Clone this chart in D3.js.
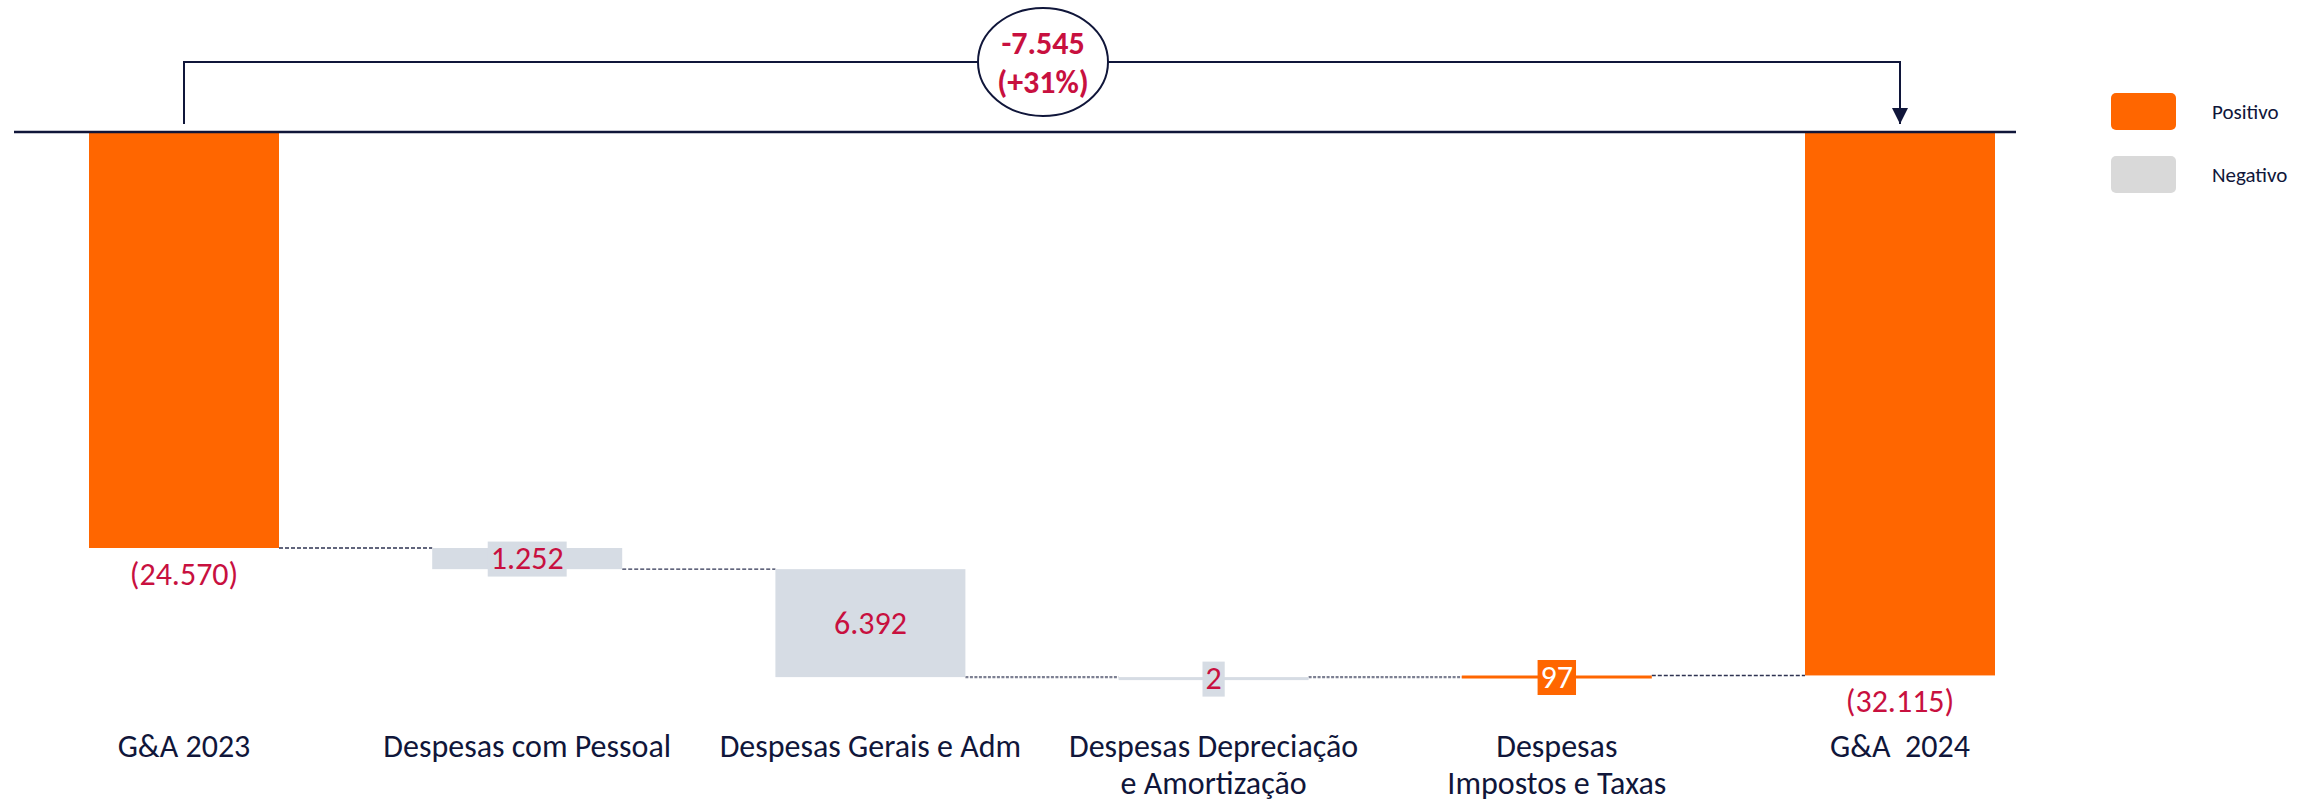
<!DOCTYPE html>
<html lang="pt">
<head>
    <meta charset="UTF-8">
    <title>G&A 2023 x 2024</title>
    <script src="https://cdn.jsdelivr.net/npm/d3@7"></script>
    <style>
        body { margin: 0; background: #fff; }
        text { font-family: Calibri, Carlito, "Noto Sans", sans-serif; }
    </style>
</head>
<body>
<script>
    // dados
    const categories = ['G&A 2023', 'Despesas com Pessoal', 'Despesas Gerais e Adm',
        'Despesas Depreciação\ne Amortização', 'Despesas\nImpostos e Taxas', 'G&A  2024'];
    const values = [24570, 1252, 6392, 2, -97, 32115];
    const kinds = ['total', 'neg', 'neg', 'neg', 'pos', 'total'];
    const labels = ['(24.570)', '1.252', '6.392', '2', '97', '(32.115)'];
    const deltaLabel = ['-7.545', '(+31%)'];
    const legendItems = ['Positivo', 'Negativo'];

    const width = 2316, height = 803;
    const navy = '#10163a', orange = '#ff6600', grey = '#d6dce4', red = '#c8103f';

    const x = d3.scalePoint().domain(d3.range(categories.length)).range([184, 1900]);
    const y = d3.scaleLinear().domain([0, 24570]).range([133, 548]);
    const barW = 190;

    // running totals for the waterfall
    let run = 0;
    const bars = values.map((v, i) => {
        let y0, y1;
        if (kinds[i] === 'total') { y0 = 0; y1 = v; run = v; }
        else { y0 = run; run = run + v; y1 = run; }
        return {i, v, kind: kinds[i], lo: Math.min(y0, y1), hi: Math.max(y0, y1), end: run};
    });

    const svg = d3.select('body').append('svg').attr('width', width).attr('height', height);

    // connectors
    bars.slice(0, -1).forEach((b, i) => {
        const thick = i === 2 || i === 3;
        svg.append('line')
            .attr('x1', x(i) + barW / 2).attr('x2', x(i + 1) - barW / 2)
            .attr('y1', y(b.end)).attr('y2', y(b.end))
            .attr('stroke', thick ? '#7d8092' : '#2e3352')
            .attr('stroke-width', thick ? 2.2 : 1.3)
            .attr('stroke-dasharray', thick ? '3,1.5' : '4,2');
    });

    // bars
    svg.selectAll('rect.bar').data(bars).enter().append('rect')
        .attr('class', 'bar')
        .attr('x', d => x(d.i) - barW / 2)
        .attr('width', barW)
        .attr('y', d => y(d.lo))
        .attr('height', d => Math.max(3, y(d.hi) - y(d.lo)))
        .attr('fill', d => d.kind === 'neg' ? grey : orange);

    // value labels
    bars.forEach((d, i) => {
        if (d.kind === 'total') {
            svg.append('text').attr('x', x(i)).attr('y', y(d.hi) + 26)
                .attr('text-anchor', 'middle').attr('dominant-baseline', 'central')
                .attr('font-size', 32).attr('fill', red).text(labels[i]);
            return;
        }
        const cy = (y(d.lo) + Math.max(y(d.hi), y(d.lo) + 3)) / 2;
        const g = svg.append('g');
        const t = g.append('text').attr('x', x(i)).attr('y', cy)
            .attr('text-anchor', 'middle').attr('dominant-baseline', 'central')
            .attr('font-size', 32)
            .attr('fill', d.kind === 'pos' ? '#fff' : red)
            .text(labels[i]);
        if (i !== 2) {
            const bb = t.node().getBBox();
            g.insert('rect', 'text')
                .attr('x', bb.x - 3).attr('width', bb.width + 6)
                .attr('y', cy - 17).attr('height', 35)
                .attr('fill', d.kind === 'pos' ? orange : grey);
        }
    });

    // category labels
    categories.forEach((c, i) => {
        const lines = c.split('\n');
        const t = svg.append('text').attr('x', x(i)).attr('y', 746)
            .attr('text-anchor', 'middle').attr('font-size', 32)
            .attr('fill', navy).style('white-space', 'pre');
        lines.forEach((l, k) => t.append('tspan').attr('x', x(i))
            .attr('y', 746 + k * 37).attr('dominant-baseline', 'central').text(l));
    });

    // base line
    svg.append('line').attr('x1', 14).attr('x2', 2016).attr('y1', 132).attr('y2', 132)
        .attr('stroke', navy).attr('stroke-width', 2.5);

    // bracket with arrow
    svg.append('defs').append('marker').attr('id', 'arrow')
        .attr('viewBox', '0 0 10 10').attr('refX', 10).attr('refY', 5)
        .attr('markerWidth', 8).attr('markerHeight', 8).attr('markerUnits', 'strokeWidth')
        .attr('orient', 'auto')
        .append('path').attr('d', 'M0,0L10,5L0,10Z').attr('fill', navy);
    const by = 62;
    svg.append('path')
        .attr('d', `M${x(0)},124V${by}H${x(5)}V124`)
        .attr('fill', 'none').attr('stroke', navy).attr('stroke-width', 2)
        .attr('marker-end', 'url(#arrow)');
    svg.append('ellipse').attr('cx', 1043).attr('cy', by).attr('rx', 65).attr('ry', 54)
        .attr('fill', '#fff').attr('stroke', navy).attr('stroke-width', 2);
    deltaLabel.forEach((l, k) => svg.append('text')
        .attr('x', 1043).attr('y', 43 + k * 39)
        .attr('text-anchor', 'middle').attr('dominant-baseline', 'central')
        .attr('font-size', 32).attr('font-weight', 'bold').attr('fill', red).text(l));

    // legend
    const leg = svg.append('g').attr('transform', 'translate(2111,93)');
    legendItems.forEach((l, k) => {
        leg.append('rect').attr('x', 0).attr('y', k * 63).attr('width', 65).attr('height', 37)
            .attr('rx', 5).attr('fill', k === 0 ? orange : '#d9d9d9');
        leg.append('text').attr('x', 101).attr('y', k * 63 + 19)
            .attr('dominant-baseline', 'central').attr('font-size', 21)
            .attr('fill', navy).text(l);
    });
</script>
</body>
</html>
